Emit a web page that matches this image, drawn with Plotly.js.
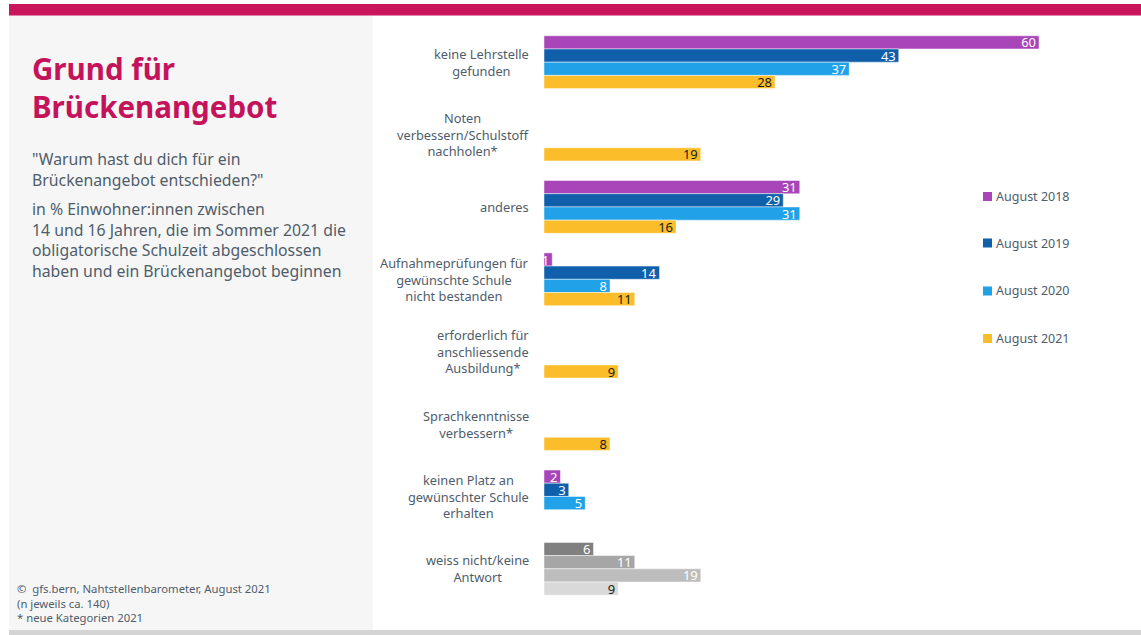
<!DOCTYPE html>
<html>
<head>
<meta charset="utf-8">
<script src="https://cdn.plot.ly/plotly-3.0.1.min.js"></script>
<style>
  html, body { margin: 0; padding: 0; background: #ffffff; }
  #chart { width: 1141px; height: 635px; }
</style>
</head>
<body>
<div id="chart"></div>
<script>
// ---- data ----
const categories = [
  "keine Lehrstelle<br>gefunden",
  "Noten<br>verbessern/Schulstoff<br>nachholen*",
  "anderes",
  "Aufnahmeprüfungen für<br>gewünschte Schule<br>nicht bestanden",
  "erforderlich für<br>anschliessende<br>Ausbildung*",
  "Sprachkenntnisse<br>verbessern*",
  "keinen Platz an<br>gewünschter Schule<br>erhalten",
  "weiss nicht/keine<br>Antwort"
];
const seriesNames = ["August 2018", "August 2019", "August 2020", "August 2021"];
const values2018 = [60, null, 31, 1, null, null, 2, 6];
const values2019 = [43, null, 29, 14, null, null, 3, 11];
const values2020 = [37, null, 31, 8, null, null, 5, 19];
const values2021 = [28, 19, 16, 11, 9, 8, null, 9];
const seriesValues = [values2018, values2019, values2020, values2021];

// ---- styles ----
const seriesColors = ["#a845b9", "#0f5fab", "#21a1e8", "#fbbe2a"];
const greyColors = ["#808080", "#a6a6a6", "#bdbdbd", "#d9d9d9"];
const textColors = ["#ffffff", "#ffffff", "#ffffff", "#1a1a1a"];
const greyIndex = categories.length - 1;
const FONT = "Noto Sans, sans-serif";
const TXT = "#4f5d6b";

const L = 544, R = 3, T = 26, B = 30, FW = 1141, FH = 635;
const PW = FW - L - R, PH = FH - T - B;
const px = x => (x - L) / PW;
const py = y => 1 - (y - T) / PH;

const traces = seriesValues.map((vals, s) => ({
  type: "bar",
  orientation: "h",
  name: seriesNames[s],
  y: categories,
  x: vals,
  text: vals.map(v => v == null ? "" : String(v)),
  textposition: "inside",
  insidetextanchor: "end",
  textangle: 0,
  constraintext: "none",
  textfont: { family: FONT, size: 13, color: textColors[s] },
  marker: {
    color: categories.map((c, i) => i === greyIndex ? greyColors[s] : seriesColors[s]),
    line: { color: "rgba(255,255,255,0.6)", width: 0.8 }
  },
  showlegend: false,
  hoverinfo: "skip"
}));

const annotations = [];
// category labels
categories.forEach(c => {
  annotations.push({
    xref: "paper", yref: "y", x: px(531), y: c,
    xanchor: "right", yanchor: "middle", align: "center",
    text: c, showarrow: false,
    font: { family: FONT, size: 12.8, color: TXT }
  });
});
// title and texts
annotations.push({
  xref: "paper", yref: "paper", x: px(30), y: py(87),
  xanchor: "left", yanchor: "middle", align: "left", showarrow: false,
  text: "<b>Grund für<br>Brückenangebot</b>",
  font: { family: FONT, size: 29.5, color: "#c4135b" }
});
annotations.push({
  xref: "paper", yref: "paper", x: px(30), y: py(169),
  xanchor: "left", yanchor: "middle", align: "left", showarrow: false,
  text: "\"Warum hast du dich für ein<br>Brückenangebot entschieden?\"",
  font: { family: FONT, size: 15.8, color: TXT }
});
annotations.push({
  xref: "paper", yref: "paper", x: px(30), y: py(240),
  xanchor: "left", yanchor: "middle", align: "left", showarrow: false,
  text: "in % Einwohner:innen zwischen<br>14 und 16 Jahren, die im Sommer 2021 die<br>obligatorische Schulzeit abgeschlossen<br>haben und ein Brückenangebot beginnen",
  font: { family: FONT, size: 15.8, color: TXT }
});
annotations.push({
  xref: "paper", yref: "paper", x: px(15), y: py(603),
  xanchor: "left", yanchor: "middle", align: "left", showarrow: false,
  text: "©  gfs.bern, Nahtstellenbarometer, August 2021<br>(n jeweils ca. 140)<br>* neue Kategorien 2021",
  font: { family: FONT, size: 11.3, color: TXT }
});

const shapes = [
  { type: "rect", xref: "paper", yref: "paper", x0: px(9), x1: px(373), y0: py(630), y1: py(15),
    fillcolor: "#f6f6f6", line: { width: 0 }, layer: "below" },
  { type: "rect", xref: "paper", yref: "paper", x0: px(9), x1: px(1141), y0: py(15.5), y1: py(4),
    fillcolor: "#c8155c", line: { width: 0 }, layer: "below" },
  { type: "rect", xref: "paper", yref: "paper", x0: px(9), x1: px(1141), y0: py(635), y1: py(630),
    fillcolor: "#d4d4d4", line: { width: 0 }, layer: "below" }
];

// legend built from series names
const legendY = [196.5, 243, 291, 338.5];
seriesNames.forEach((n, s) => {
  shapes.push({ type: "rect", xref: "paper", yref: "paper",
    x0: px(983), x1: px(992), y0: py(legendY[s] + 4.5), y1: py(legendY[s] - 4.5),
    fillcolor: seriesColors[s], line: { width: 0 } });
  annotations.push({ xref: "paper", yref: "paper", x: px(994), y: py(legendY[s]),
    xanchor: "left", yanchor: "middle", showarrow: false, text: n,
    font: { family: FONT, size: 12.5, color: TXT } });
});

const layout = {
  width: FW, height: FH,
  margin: { l: L, r: R, t: T, b: B, pad: 0 },
  paper_bgcolor: "#ffffff", plot_bgcolor: "rgba(0,0,0,0)",
  barmode: "group", bargap: 0.27, bargroupgap: 0,
  showlegend: false,
  xaxis: { range: [0, PW / 8.25], visible: false, fixedrange: true },
  yaxis: { type: "category", categoryorder: "array", categoryarray: categories,
           autorange: "reversed", showticklabels: false, showgrid: false,
           zeroline: false, showline: false, ticks: "", fixedrange: true },
  annotations: annotations,
  shapes: shapes,
  hovermode: false,
  font: { family: FONT }
};

Plotly.newPlot("chart", traces, layout, { staticPlot: true, displayModeBar: false });
</script>
</body>
</html>
